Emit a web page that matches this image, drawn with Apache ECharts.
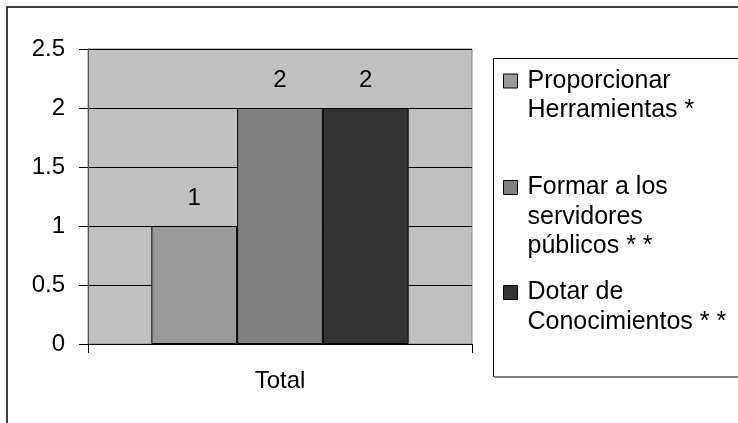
<!DOCTYPE html>
<html>
<head>
<meta charset="utf-8">
<style>
  html, body { margin: 0; padding: 0; background: #fff; }
  #chart { width: 738px; height: 423px; }
</style>
<script src="https://cdn.jsdelivr.net/npm/echarts@6/dist/echarts.min.js"></script>
</head>
<body>
<div id="chart"></div>
<script>
// Chart data
const categories = ['Total'];
const seriesNames = [
  'Proporcionar\nHerramientas *',
  'Formar a los\nservidores\npúblicos * *',
  'Dotar de\nConocimientos * *'
];
const seriesValues = [[1], [2], [2]];
const yTicks = { min: 0, max: 2.5, interval: 0.5 };

const FONT = '"Liberation Sans", Arial, sans-serif';
const colors = ['#999999', '#808080', '#333333'];
const LINE_H = 29.5;
// vertical centre of each legend swatch
const swatchCentres = [81, 187.5, 292.5];

const chart = echarts.init(document.getElementById('chart'), null, { renderer: 'canvas' });

// One legend block per series so each entry sits at its own height.
// Blank lines are prepended so the swatch lines up with the first text line.
const legends = seriesNames.map((name, i) => {
  const lines = name.split('\n').length;
  const blockH = (2 * lines - 1) * LINE_H;
  return {
    data: [name],
    left: 503,
    top: swatchCentres[i] - blockH / 2,
    orient: 'vertical',
    padding: 0,
    icon: 'rect',
    itemWidth: 14,
    itemHeight: 14,
    selectedMode: false,
    itemStyle: { borderColor: '#000', borderWidth: 1 },
    formatter: (n) => '\n'.repeat(n.split('\n').length - 1) + n,
    textStyle: {
      fontFamily: FONT,
      fontSize: 25,
      color: '#000',
      lineHeight: LINE_H,
      padding: [0, 0, 0, 5]
    }
  };
});

const series = seriesNames.map((name, i) => ({
  name: name,
  type: 'bar',
  data: seriesValues[i],
  barGap: '0%',
  barCategoryGap: '33%',
  itemStyle: { color: colors[i], borderColor: '#000', borderWidth: 1 },
  label: {
    show: true,
    position: 'top',
    distance: 16,
    fontFamily: FONT,
    fontSize: 24,
    color: '#000'
  }
}));

chart.setOption({
  animation: false,
  backgroundColor: '#fff',
  graphic: [
    // outer chart frame
    {
      type: 'rect', z: -10,
      shape: { x: 7, y: 7, width: 800, height: 500 },
      style: { fill: '#fff', stroke: '#000', lineWidth: 1.5 }
    },
    // legend frame
    {
      type: 'rect', z: -5,
      shape: { x: 493.5, y: 58.5, width: 300, height: 318 },
      style: { fill: '#fff', stroke: '#000', lineWidth: 1 }
    },
    {
      type: 'line', z: -4,
      shape: { x1: 494, y1: 377, x2: 800, y2: 377 },
      style: { stroke: '#808080', lineWidth: 2 }
    }
  ],
  legend: legends,
  grid: {
    left: 88, top: 49, right: 266, bottom: 79,
    show: true,
    backgroundColor: '#C0C0C0',
    borderColor: '#808080',
    borderWidth: 1,
    containLabel: false
  },
  xAxis: {
    type: 'category',
    data: categories,
    axisLine: { show: true, lineStyle: { color: '#000', width: 1 } },
    axisTick: { show: true, length: 9, lineStyle: { color: '#000' } },
    axisLabel: { fontFamily: FONT, fontSize: 24, color: '#000', margin: 25 }
  },
  yAxis: {
    type: 'value',
    min: yTicks.min,
    max: yTicks.max,
    interval: yTicks.interval,
    axisLine: { show: true, lineStyle: { color: '#555', width: 1 } },
    axisTick: { show: true, length: 9, lineStyle: { color: '#000' } },
    axisLabel: { fontFamily: FONT, fontSize: 24, color: '#000', margin: 23 },
    splitLine: { show: true, lineStyle: { color: '#000', width: 1 } }
  },
  series: series
});
</script>
</body>
</html>
